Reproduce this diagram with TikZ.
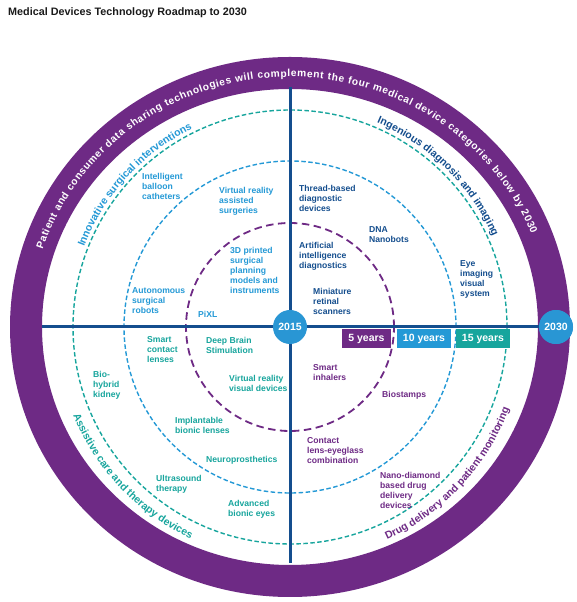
\documentclass[tikz,border=0pt]{standalone}
\usepackage{fontspec}
\setmainfont{Liberation Sans}
\usetikzlibrary{decorations.text}
\definecolor{ringpurple}{HTML}{6E2A85}
\definecolor{navy}{HTML}{144E8E}
\definecolor{lblue}{HTML}{2499D6}
\definecolor{teal}{HTML}{17A59D}
\definecolor{circblue}{HTML}{2996D4}
\definecolor{titlecol}{HTML}{1A1A1A}
\begin{document}
\begin{tikzpicture}[x=1pt,y=1pt,
  item/.style={anchor=north west, inner sep=0pt, align=left, font=\bfseries\fontsize{8.6}{10}\selectfont},
  yearcirc/.style={circle, fill=circblue, minimum size=34pt, inner sep=0pt, text=white, font=\bfseries\fontsize{10.5}{12}\selectfont},
  yearbox/.style={rectangle, minimum height=19pt, inner sep=0pt, text=white, font=\bfseries\fontsize{10.5}{12}\selectfont},
  axis/.style={navy, line width=3pt},
  smalldash/.style={line width=1.4pt, dash pattern=on 4.5pt off 2.5pt},
  bigdash/.style={line width=1.8pt, dash pattern=on 7.5pt off 4.5pt}
]
\useasboundingbox[fill=white] (0,0) rectangle (577,602);
\coordinate (C) at (290,275);

% title
\node[anchor=base west, inner sep=0pt, text=titlecol, font=\bfseries\fontsize{10.8}{13}\selectfont] (title) at (8,586) {Medical Devices Technology Roadmap to 2030};

% outer ring
\fill[ringpurple, even odd rule] (C) ellipse[x radius=280, y radius=270] (C) ellipse[x radius=248, y radius=238];

% dashed circles
\draw[teal, smalldash] (C) circle[radius=217];
\draw[lblue, smalldash] (C) circle[radius=166];
\draw[ringpurple, bigdash] (C) circle[radius=104];

% axes
\coordinate (vtop) at (290,515);
\coordinate (vbot) at (290,39);
\coordinate (hleft) at (42,275);
\node[yearcirc] (y2030) at (556,275) {};
\draw[axis] (vtop) -- (vbot);
\draw[axis] (hleft) -- (y2030.center);
\node[yearcirc] (y2015) at (C) {2015};
\node[yearcirc] (y2030b) at (556,275) {2030};

% year boxes
\node[yearbox, fill=ringpurple, minimum width=49pt] (b5) at (366.5,263.5) {5 years};
\node[yearbox, fill=lblue, minimum width=54pt] (b10) at (424,263.5) {10 years};
\node[yearbox, fill=teal, minimum width=54pt] (b15) at (483,263.5) {15 years};

% ring text
\path[decorate, decoration={text along path, text align=fit to path,
  text={|\fontsize{10.2}{12}\selectfont\bfseries\color{white}|Patient and consumer data sharing technologies will complement the four medical device categories below by 2030}}]
  (C) ++({260*cos(162)},{250*sin(162)}) arc[start angle=162, end angle=22, x radius=260, y radius=250];

% quadrant labels
\path[decorate, decoration={text along path, text align=center,
  text={|\fontsize{10.5}{12}\selectfont\bfseries\color{lblue}|Innovative surgical interventions}}]
  (C) ++(172:221) arc[start angle=172, end angle=103, radius=221];
\path[decorate, decoration={text along path, text align=center,
  text={|\fontsize{10.5}{12}\selectfont\bfseries\color{navy}|Ingenious diagnosis and imaging}}]
  (C) ++(80:222) arc[start angle=80, end angle=11, radius=222];
\path[decorate, decoration={text along path, text align=center,
  text={|\fontsize{10.5}{12}\selectfont\bfseries\color{teal}|Assistive care and therapy devices}}]
  (C) ++(189:234) arc[start angle=189, end angle=258, radius=234];
\path[decorate, decoration={text along path, text align=center,
  text={|\fontsize{10.5}{12}\selectfont\bfseries\color{ringpurple}|Drug delivery and patient monitoring}}]
  (C) ++(-78:234) arc[start angle=-78, end angle=-8, radius=234];

% top-left items
\node[item, text=lblue] (t1) at (142,429.4) {Intelligent\\balloon\\catheters};
\node[item, text=lblue] (t2) at (219,415.4) {Virtual reality\\assisted\\surgeries};
\node[item, text=lblue] (t3) at (230,355.4) {3D printed\\surgical\\planning\\models and\\instruments};
\node[item, text=lblue] (t4) at (132,314.4) {Autonomous\\surgical\\robots};
\node[item, text=lblue] (t5) at (198,291.4) {PiXL};

% top-right items
\node[item, text=navy] (r1) at (299,417.4) {Thread-based\\diagnostic\\devices};
\node[item, text=navy] (r2) at (369,375.4) {DNA\\Nanobots};
\node[item, text=navy] (r3) at (299,360.4) {Artificial\\intelligence\\diagnostics};
\node[item, text=navy] (r4) at (313,314.4) {Miniature\\retinal\\scanners};
\node[item, text=navy] (r5) at (460,341.4) {Eye\\imaging\\visual\\system};

% bottom-left items
\node[item, text=teal] (l1) at (147,265.4) {Smart\\contact\\lenses};
\node[item, text=teal] (l2) at (206,265.4) {Deep Brain\\Stimulation};
\node[item, text=teal] (l3) at (93,231.4) {Bio-\\hybrid\\kidney};
\node[item, text=teal] (l4) at (229,227.4) {Virtual reality\\visual devices};
\node[item, text=teal] (l5) at (175,185.4) {Implantable\\bionic lenses};
\node[item, text=teal] (l6) at (206,146.4) {Neuroprosthetics};
\node[item, text=teal] (l7) at (156,127.4) {Ultrasound\\therapy};
\node[item, text=teal] (l8) at (228,102.4) {Advanced\\bionic eyes};

% bottom-right items
\node[item, text=ringpurple] (p1) at (313,237.4) {Smart\\inhalers};
\node[item, text=ringpurple] (p2) at (382,211.4) {Biostamps};
\node[item, text=ringpurple] (p3) at (307,164.4) {Contact\\lens-eyeglass\\combination};
\node[item, text=ringpurple] (p4) at (380,130.4) {Nano-diamond\\based drug\\delivery\\devices};
\end{tikzpicture}
\end{document}
